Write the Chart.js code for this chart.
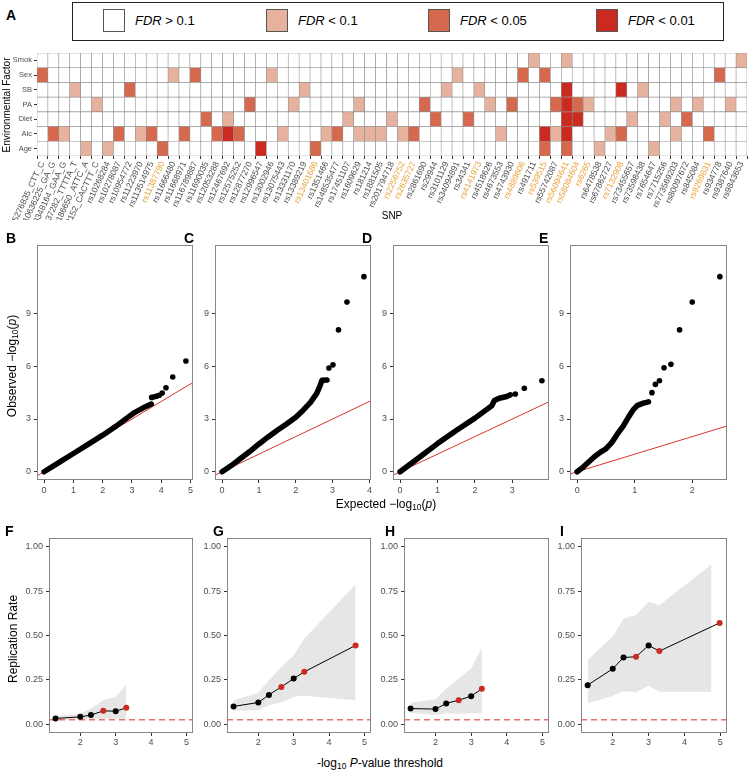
<!DOCTYPE html>
<html>
<head>
<meta charset="utf-8">
<script src="https://cdn.jsdelivr.net/npm/chart.js@4.4.1/dist/chart.umd.min.js"></script>
<style>
  body { margin: 0; background: #fff; }
  #fig { position: relative; width: 748px; height: 772px; overflow: hidden;
         font-family: "Liberation Sans", Arial, Helvetica, sans-serif; color: #000; }
  #fig canvas { position: absolute; }
  .tag { position: absolute; font-weight: bold; font-size: 14px; line-height: 1; }
  .title { position: absolute; white-space: nowrap; line-height: 1; transform: translate(-50%, -50%); }
  .vtitle { position: absolute; white-space: nowrap; line-height: 1; transform: translate(-50%, -50%) rotate(-90deg); }
  #legend { position: absolute; left: 72px; top: 2px; width: 650px; height: 37px; border: 1px solid #222; }
  .sw { position: absolute; top: 6px; width: 22px; height: 23px; border: 1px solid #555; box-sizing: border-box; }
  .lt { position: absolute; top: 11px; font-size: 13px; line-height: 1; white-space: nowrap; }
  sub { font-size: 70%; vertical-align: -2px; line-height: 0; }
</style>
</head>
<body>
<div id="fig">
  <div class="tag" style="left:6px;top:8px">A</div>
  <div id="legend"></div>
  <canvas id="heat" width="748" height="175" style="left:0;top:45px"></canvas>
  <div class="title" style="left:392px;top:216px;font-size:10px">SNP</div>
  <div class="vtitle" style="left:7px;top:105px;font-size:10px">Environmental Factor</div>

  <div class="tag" style="left:6px;top:231px">B</div>
  <div class="tag" style="left:184px;top:231px">C</div>
  <div class="tag" style="left:362px;top:231px">D</div>
  <div class="tag" style="left:539px;top:231px">E</div>
  <canvas id="qqB" width="183" height="265" style="left:15px;top:238px"></canvas>
  <canvas id="qqC" width="183" height="265" style="left:193px;top:238px"></canvas>
  <canvas id="qqD" width="183" height="265" style="left:371px;top:238px"></canvas>
  <canvas id="qqE" width="184" height="265" style="left:548px;top:238px"></canvas>
  <div class="vtitle" style="left:12px;top:366px;font-size:12px">Observed −log<sub>10</sub>(<i>p</i>)</div>
  <div class="title" style="left:386px;top:504px;font-size:12px">Expected −log<sub>10</sub>(<i>p</i>)</div>

  <div class="tag" style="left:5px;top:524px">F</div>
  <div class="tag" style="left:213px;top:524px">G</div>
  <div class="tag" style="left:385px;top:524px">H</div>
  <div class="tag" style="left:560px;top:524px">I</div>
  <canvas id="repF" width="179" height="218" style="left:19px;top:532px"></canvas>
  <canvas id="repG" width="179" height="218" style="left:197px;top:532px"></canvas>
  <canvas id="repH" width="180" height="218" style="left:374px;top:532px"></canvas>
  <canvas id="repI" width="181" height="218" style="left:551px;top:532px"></canvas>
  <div class="vtitle" style="left:13px;top:639px;font-size:12px">Replication Rate</div>
  <div class="title" style="left:380px;top:763px;font-size:12px">-log<sub>10</sub> <i>P</i>-value threshold</div>
</div>

<script>
// ---- panel A: SNP x environment heatmap ----
const snps = ['11:65276835_CTT_C', '12:110636225_GA_G', '12:58348164_GAA_G', '3:35837282_TTTTA_T',
  '4:45186650_ATTC_A', '6:163543152_CACTTT_C', 'rs10268284', 'rs10278087', 'rs10954772', 'rs11223970',
  'rs113514975', 'rs11387790', 'rs11666480', 'rs11668971', 'rs116789887', 'rs11690035', 'rs12053288',
  'rs12467692', 'rs12575252', 'rs12877270', 'rs12996547', 'rs13002946', 'rs13075443', 'rs13331170',
  'rs13389219', 'rs13401686', 'rs1351466', 'rs148535477', 'rs17451107', 'rs1609629', 'rs181214',
  'rs1881505', 'rs201794718', 'rs2256752', 'rs2635727', 'rs2861690', 'rs29944', 'rs3101129',
  'rs34094891', 'rs34341', 'rs4141973', 'rs4518626', 'rs4673553', 'rs4743930', 'rs4889606',
  'rs491711', 'rs539515', 'rs55742087', 'rs56094641', 'rs58084604', 'rs6265', 'rs6478538',
  'rs67862727', 'rs7132908', 'rs73455657', 'rs73598438', 'rs7654647', 'rs7715256', 'rs773569203',
  'rs80097672', 'rs845084', 'rs9269831', 'rs934778', 'rs9387640', 'rs9843653'];
// SNPs whose label is printed in orange
const orangeSnps = ['rs11387790', 'rs13401686', 'rs2256752', 'rs2635727', 'rs4141973', 'rs4889606',
  'rs539515', 'rs56094641', 'rs58084604', 'rs6265', 'rs7132908', 'rs9269831'];

// FDR level per SNP: 0 = >0.1, 1 = <0.1, 2 = <0.05, 3 = <0.01
const smok = [0,0,0,0,0,0,0,0,0,0, 0,0,0,0,0,0,0,0,0,0, 0,0,0,0,0,0,0,0,0,0, 0,0,0,0,0,0,0,0,0,0,
              0,0,0,0,0,1,0,0,1,0, 0,0,0,0,0,0,0,0,0,0, 0,0,0,0,1];
const sex  = [2,0,0,0,0,0,0,0,0,0, 0,0,1,0,2,0,0,0,0,0, 0,1,0,0,0,0,0,0,0,0, 0,0,0,0,0,0,0,0,1,0,
              0,0,0,0,2,0,2,0,0,0, 0,0,0,0,0,0,0,0,0,0, 0,0,2,0,0];
const sb   = [0,0,0,1,0,0,0,0,2,0, 0,0,0,0,0,0,0,0,0,0, 0,0,0,0,1,0,0,0,0,0, 0,0,0,0,0,0,0,1,0,0,
              1,0,0,0,0,0,0,0,3,0, 0,0,0,3,0,1,0,0,0,0, 0,0,0,0,0];
const pa   = [0,0,0,0,0,1,0,0,0,0, 0,0,0,0,0,0,0,0,0,2, 0,0,0,1,0,0,0,0,0,1, 0,0,0,0,0,2,0,0,0,0,
              0,1,0,2,0,0,0,2,3,2, 1,0,0,0,0,0,0,0,1,0, 1,0,0,1,0];
const diet = [0,0,0,0,0,0,0,0,0,0, 0,0,0,0,0,2,0,1,0,0, 0,0,0,0,0,0,0,0,1,0, 0,0,1,0,0,0,2,0,0,2,
              0,0,0,0,0,0,0,0,3,3, 0,0,0,0,1,0,0,1,0,2, 0,0,0,0,0];
const alc  = [0,2,1,0,0,0,0,2,0,1, 2,0,0,2,0,0,2,3,2,0, 0,0,1,0,0,0,1,2,0,1, 1,1,0,1,2,0,0,0,0,0,
              0,0,1,0,0,0,3,1,3,0, 0,0,1,2,0,0,0,0,1,0, 0,2,0,0,0];
const age  = [0,0,0,0,1,0,1,0,0,0, 0,2,0,0,0,0,0,0,0,0, 3,0,0,0,0,2,0,0,0,0, 0,0,0,0,0,0,0,0,0,0,
              0,0,0,0,0,0,2,0,2,0, 0,1,0,0,0,0,1,0,0,0, 0,0,0,0,0];

const factors = ['Age', 'Alc', 'Diet', 'PA', 'SB', 'Sex', 'Smok'];   // bottom to top
const factorLevels = [age, alc, diet, pa, sb, sex, smok];
const fdrColors = ['#FFFFFF', '#E6B29D', '#D6684D', '#CB2A20'];
const fdrLabels = ['> 0.1', '< 0.1', '< 0.05', '< 0.01'];

// ---- panels B-E: QQ plots (expected, observed) ----
const qqBand = {
  B: [[0,0],[0.5,0.52],[1,1.04],[1.5,1.56],[2,2.08],[2.5,2.65],[2.8,3.02],[3.1,3.38],[3.4,3.65],[3.66,3.85]],
  C: [[0,0],[0.25,0.35],[0.5,0.75],[0.75,1.15],[1,1.58],[1.25,1.98],[1.5,2.36],[1.75,2.72],[2,3.1],
      [2.2,3.5],[2.4,3.95],[2.57,4.46],[2.65,4.84],[2.71,5.2],[2.85,5.22]],
  D: [[0,0],[0.5,0.8],[1,1.6],[1.5,2.35],[2,3.05],[2.3,3.52],[2.45,3.75],[2.52,4.05],[2.65,4.18],
      [2.85,4.28],[2.95,4.38]],
  E: [[0,0],[0.1,0.25],[0.2,0.55],[0.3,0.85],[0.4,1.1],[0.5,1.3],[0.6,1.65],[0.7,2.15],[0.8,2.6],
      [0.9,3.15],[0.98,3.55],[1.05,3.78],[1.15,3.9],[1.24,3.98]]
};
const qqTail = {
  B: [[3.67,4.23],[3.76,4.27],[3.84,4.3],[3.93,4.35],[4.03,4.48],[4.16,4.78],[4.39,5.39],[4.84,6.3]],
  C: [[2.9,5.9],[3.01,6.08],[3.16,8.07],[3.39,9.66],[3.85,11.1]],
  D: [[3.08,4.42],[3.32,4.75],[3.79,5.18]],
  E: [[1.3,4.5],[1.36,4.97],[1.43,5.18],[1.51,5.92],[1.63,6.11],[1.78,8.07],[2.0,9.66],[2.48,11.1]]
};
const qqYTicks = [0, 3, 6, 9];
const qqYRange = [-0.47, 12.9];

// ---- panels F-I: replication rate by threshold ----
const thresholds = [1.3, 2, 2.3, 2.65, 3, 3.3, 4.75];
const redThr = [false, false, false, true, false, true, true];
// where the points sit on x (panel I's last point is drawn at ~5)
const pointX = {
  F: [1.3, 2, 2.3, 2.65, 3, 3.3],
  G: [1.3, 2, 2.3, 2.65, 3, 3.3, 4.75],
  H: [1.3, 2, 2.3, 2.65, 3, 3.3],
  I: [1.3, 2, 2.3, 2.65, 3, 3.3, 4.98]
};
const repRate = {
  F: [0.032, 0.041, 0.051, 0.075, 0.073, 0.092],
  G: [0.10, 0.122, 0.165, 0.21, 0.257, 0.295, 0.444],
  H: [0.088, 0.085, 0.117, 0.135, 0.158, 0.199],
  I: [0.22, 0.312, 0.376, 0.38, 0.444, 0.412, 0.571]
};
const repLow = {
  F: [0.024, 0.026, 0.028, 0.03, 0.03, 0.026],
  G: [0.075, 0.078, 0.107, 0.124, 0.154, 0.16, 0.135],
  H: [0.064, 0.051, 0.062, 0.058, 0.062, 0.062],
  I: [0.117, 0.16, 0.186, 0.18, 0.216, 0.182, 0.182]
};
const repHigh = {
  F: [0.045, 0.06, 0.088, 0.135, 0.154, 0.224],
  G: [0.135, 0.177, 0.248, 0.323, 0.389, 0.483, 0.788],
  H: [0.12, 0.141, 0.2, 0.258, 0.314, 0.432],
  I: [0.361, 0.496, 0.594, 0.615, 0.69, 0.671, 0.9]
};
const chanceRate = 0.025;
const repXTicks = [2, 3, 4, 5];
const repYTicks = [0, 0.25, 0.5, 0.75, 1];
const repXRange = [1.115, 5.185];

const tickGrey = '#4d4d4d';
const fontFam = '"Liberation Sans", Arial, sans-serif';
const red = '#CB2A20';

// fix axis sizes so plot areas land where they are in the figure
const fixW = (w) => (s) => { s.width = w; s.paddingTop = 0; s.paddingBottom = 0; };
const fixH = (h) => (s) => { s.height = h; s.paddingLeft = 0; s.paddingRight = 0; };
const setTicks = (vals) => (s) => { s.ticks = vals.map(v => ({ value: v })); };

const panelBox = {
  id: 'panelBox',
  afterDatasetsDraw(chart) {
    const a = chart.chartArea, c = chart.ctx;
    c.save();
    c.strokeStyle = '#858585';
    c.lineWidth = 1;
    c.strokeRect(Math.round(a.left) + 0.5, Math.round(a.top) + 0.5,
                 Math.round(a.right - a.left) - 1, Math.round(a.bottom - a.top) - 1);
    c.restore();
  }
};

const tickGrid = { display: true, drawOnChartArea: false, drawTicks: true, tickLength: 3, color: '#333' };

// legend of panel A
const legend = document.getElementById('legend');
const swLeft = [30, 193, 355, 523];
fdrLabels.forEach((lab, i) => {
  const sw = document.createElement('div');
  sw.className = 'sw';
  sw.style.left = swLeft[i] + 'px';
  sw.style.background = fdrColors[i];
  legend.appendChild(sw);
  const t = document.createElement('div');
  t.className = 'lt';
  t.style.left = (swLeft[i] + 32) + 'px';
  t.innerHTML = '<i>FDR</i> ' + lab.replace('<', '&lt;').replace('>', '&gt;');
  legend.appendChild(t);
});

// heatmap as stacked unit bars, one dataset per environmental factor
new Chart(document.getElementById('heat'), {
  type: 'bar',
  data: {
    labels: snps,
    datasets: factors.map((f, i) => ({
      label: f,
      data: snps.map(() => 1),
      backgroundColor: factorLevels[i].map(l => fdrColors[l]),
      borderColor: '#8f8f8f',
      borderWidth: 0.6,
      borderSkipped: false,
      barPercentage: 1,
      categoryPercentage: 1
    }))
  },
  options: {
    responsive: false,
    animation: false,
    layout: { padding: { left: 0, top: 8, right: 1, bottom: 0 } },
    plugins: { legend: { display: false }, tooltip: { enabled: false } },
    scales: {
      x: {
        stacked: true,
        grid: tickGrid,
        border: { display: false },
        ticks: {
          autoSkip: false, minRotation: 65, maxRotation: 65, padding: 1,
          font: { size: 8.5, family: fontFam },
          color: (ctx) => orangeSnps.includes(snps[ctx.index]) ? '#E9A23B' : tickGrey
        },
        afterFit: fixH(64)
      },
      y: {
        stacked: true, min: 0, max: 7,
        grid: tickGrid,
        border: { display: false },
        afterBuildTicks: setTicks([0.5, 1.5, 2.5, 3.5, 4.5, 5.5, 6.5]),
        ticks: { padding: 2, font: { size: 7.5, family: fontFam }, color: tickGrey,
                 callback: (v, i) => factors[i] },
        afterFit: fixW(37)
      }
    }
  }
});

// QQ panels
function qqChart(id, key, xTicks) {
  const band = qqBand[key].map(p => ({ x: p[0], y: p[1] }));
  const tail = qqTail[key].map(p => ({ x: p[0], y: p[1] }));
  const xMaxData = qqTail[key][qqTail[key].length - 1][0];
  const xMin = -0.05 * xMaxData, xMax = 1.05 * xMaxData;
  new Chart(document.getElementById(id), {
    type: 'scatter',
    data: {
      datasets: [
        { data: tail, pointRadius: 2.8, pointBackgroundColor: '#000', pointBorderWidth: 0, order: 0 },
        { data: band, showLine: true, borderColor: '#000', borderWidth: 5.5, borderCapStyle: 'round',
          borderJoinStyle: 'round', pointRadius: 0, order: 1 },
        { data: [{ x: qqYRange[0], y: qqYRange[0] }, { x: qqYRange[1], y: qqYRange[1] }], showLine: true,
          borderColor: '#D7352B', borderWidth: 1, pointRadius: 0, order: 2 }
      ]
    },
    options: {
      responsive: false,
      animation: false,
      layout: { padding: { left: 0, top: 7, right: 5, bottom: 0 } },
      plugins: { legend: { display: false }, tooltip: { enabled: false } },
      scales: {
        x: {
          type: 'linear', min: xMin, max: xMax,
          grid: tickGrid, border: { display: false },
          afterBuildTicks: setTicks(xTicks),
          ticks: { padding: 2, font: { size: 9, family: fontFam }, color: tickGrey },
          afterFit: fixH(23)
        },
        y: {
          type: 'linear', min: qqYRange[0], max: qqYRange[1],
          grid: tickGrid, border: { display: false },
          afterBuildTicks: setTicks(qqYTicks),
          ticks: { padding: 3, font: { size: 9, family: fontFam }, color: tickGrey },
          afterFit: fixW(22)
        }
      }
    },
    plugins: [panelBox]
  });
}
qqChart('qqB', 'B', [0, 1, 2, 3, 4, 5]);
qqChart('qqC', 'C', [0, 1, 2, 3, 4]);
qqChart('qqD', 'D', [0, 1, 2, 3]);
qqChart('qqE', 'E', [0, 1, 2]);

// replication panels
function repChart(id, key) {
  const rate = repRate[key];
  const xs = thresholds.slice(0, rate.length);
  const px = pointX[key];
  const band = (ys) => xs.map((x, i) => ({ x: x, y: ys[i] }));
  new Chart(document.getElementById(id), {
    type: 'scatter',
    data: {
      datasets: [
        { data: band(repLow[key]), showLine: true, borderWidth: 0, pointRadius: 0, fill: false, order: 3 },
        { data: band(repHigh[key]), showLine: true, borderWidth: 0, pointRadius: 0, fill: '-1',
          backgroundColor: '#E6E6E6', order: 3 },
        { data: [{ x: repXRange[0], y: chanceRate }, { x: repXRange[1], y: chanceRate }], showLine: true,
          borderColor: '#E8716C', borderWidth: 1.6, borderDash: [6, 4], pointRadius: 0, order: 2 },
        { data: px.map((x, i) => ({ x: x, y: rate[i] })), showLine: true, borderColor: '#000', borderWidth: 1,
          pointRadius: 3, pointBorderWidth: 0,
          pointBackgroundColor: px.map((x, i) => redThr[i] ? red : '#000'), order: 1 }
      ]
    },
    options: {
      responsive: false,
      animation: false,
      layout: { padding: { left: 0, top: 6, right: 5, bottom: 0 } },
      plugins: { legend: { display: false }, tooltip: { enabled: false } },
      scales: {
        x: {
          type: 'linear', min: repXRange[0], max: repXRange[1],
          grid: tickGrid, border: { display: false },
          afterBuildTicks: setTicks(repXTicks),
          ticks: { padding: 1, font: { size: 9, family: fontFam }, color: tickGrey },
          afterFit: fixH(17)
        },
        y: {
          type: 'linear', min: -0.05, max: 1.05,
          grid: tickGrid, border: { display: false },
          afterBuildTicks: setTicks(repYTicks),
          ticks: { padding: 3, font: { size: 9, family: fontFam }, color: tickGrey,
                   callback: (v) => v.toFixed(2) },
          afterFit: fixW(30)
        }
      }
    },
    plugins: [panelBox]
  });
}
repChart('repF', 'F');
repChart('repG', 'G');
repChart('repH', 'H');
repChart('repI', 'I');
</script>
</body>
</html>
